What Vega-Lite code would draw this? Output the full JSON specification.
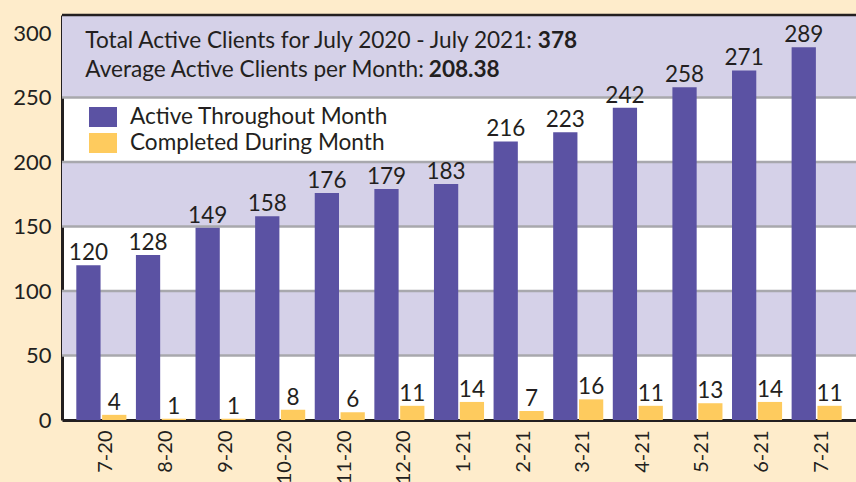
{
  "$schema": "https://vega.github.io/schema/vega-lite/v6.json",
  "width": 794,
  "height": 405,
  "autosize": {"type": "none"},
  "padding": {"left": 62, "top": 15, "right": 0, "bottom": 62},
  "background": "#FEECCB",
  "view": {"fill": "#FFFFFF", "stroke": null},
  "config": {
    "font": "Lato",
    "text": {"font": "Lato", "color": "#231F20"}
  },
  "datasets": {
    "clients": [
      {"month": "7-20", "series": "Active Throughout Month", "value": 120},
      {"month": "7-20", "series": "Completed During Month", "value": 4},
      {"month": "8-20", "series": "Active Throughout Month", "value": 128},
      {"month": "8-20", "series": "Completed During Month", "value": 1},
      {"month": "9-20", "series": "Active Throughout Month", "value": 149},
      {"month": "9-20", "series": "Completed During Month", "value": 1},
      {"month": "10-20", "series": "Active Throughout Month", "value": 158},
      {"month": "10-20", "series": "Completed During Month", "value": 8},
      {"month": "11-20", "series": "Active Throughout Month", "value": 176},
      {"month": "11-20", "series": "Completed During Month", "value": 6},
      {"month": "12-20", "series": "Active Throughout Month", "value": 179},
      {"month": "12-20", "series": "Completed During Month", "value": 11},
      {"month": "1-21", "series": "Active Throughout Month", "value": 183},
      {"month": "1-21", "series": "Completed During Month", "value": 14},
      {"month": "2-21", "series": "Active Throughout Month", "value": 216},
      {"month": "2-21", "series": "Completed During Month", "value": 7},
      {"month": "3-21", "series": "Active Throughout Month", "value": 223},
      {"month": "3-21", "series": "Completed During Month", "value": 16},
      {"month": "4-21", "series": "Active Throughout Month", "value": 242},
      {"month": "4-21", "series": "Completed During Month", "value": 11},
      {"month": "5-21", "series": "Active Throughout Month", "value": 258},
      {"month": "5-21", "series": "Completed During Month", "value": 13},
      {"month": "6-21", "series": "Active Throughout Month", "value": 271},
      {"month": "6-21", "series": "Completed During Month", "value": 14},
      {"month": "7-21", "series": "Active Throughout Month", "value": 289},
      {"month": "7-21", "series": "Completed During Month", "value": 11}
    ],
    "bands": [
      {"lo": 50, "hi": 100},
      {"lo": 150, "hi": 200},
      {"lo": 250, "hi": 314}
    ],
    "grid": [
      {"v": 50}, {"v": 100}, {"v": 150}, {"v": 200}, {"v": 250}
    ],
    "notes": [
      {"label": "Total Active Clients for July 2020 - July 2021:", "bold": "378", "yv": 288.5, "boldDx": 461.5},
      {"label": "Average Active Clients per Month:", "bold": "208.38", "yv": 266, "boldDx": 352.5}
    ]
  },
  "layer": [
    {
      "data": {"name": "bands"},
      "mark": {"type": "rect", "color": "#D5D1E8"},
      "encoding": {
        "y": {"field": "lo", "type": "quantitative", "scale": {"domain": [0, 314]}},
        "y2": {"field": "hi"}
      }
    },
    {
      "data": {"name": "grid"},
      "mark": {"type": "rule", "color": "#A8A8AD", "strokeWidth": 2.5},
      "encoding": {
        "y": {"field": "v", "type": "quantitative"}
      }
    },
    {
      "data": {"name": "clients"},
      "mark": {"type": "bar"},
      "encoding": {
        "x": {
          "field": "month", "type": "nominal", "sort": null,
          "scale": {"paddingInner": 0.16, "paddingOuter": 0.24},
          "axis": {
            "title": null, "labelAngle": 270, "labelFontSize": 20, "labelFont": "Lato",
            "labelColor": "#231F20", "ticks": false, "domainColor": "#231F20",
            "domainWidth": 3, "labelPadding": 10, "labelOffset": 5, "labelBaseline": "middle"
          }
        },
        "xOffset": {"field": "series", "type": "nominal", "scale": {"paddingInner": 0.06}},
        "y": {
          "field": "value", "type": "quantitative",
          "scale": {"domain": [0, 314], "nice": false},
          "axis": {
            "title": null, "values": [0, 50, 100, 150, 200, 250, 300], "grid": false,
            "ticks": false, "labelFontSize": 22, "labelFont": "Lato", "labelColor": "#231F20",
            "domainColor": "#231F20", "domainWidth": 3, "labelPadding": 11
          }
        },
        "color": {
          "field": "series", "type": "nominal",
          "scale": {"domain": ["Active Throughout Month", "Completed During Month"], "range": ["#5B52A3", "#FECB5E"]},
          "legend": {
            "title": null, "orient": "none", "legendX": 27, "legendY": 89, "padding": 0,
            "labelFontSize": 22.6, "labelFont": "Lato", "labelColor": "#231F20", "labelLimit": 400,
            "symbolType": "M-1,-0.714L1,-0.714L1,0.714L-1,0.714Z", "symbolSize": 784,
            "symbolStrokeWidth": 0, "symbolOpacity": 1, "labelOffset": 13,
            "clipHeight": 26, "rowPadding": 0
          }
        }
      }
    },
    {
      "data": {"name": "clients"},
      "mark": {"type": "text", "baseline": "alphabetic", "dy": -5, "fontSize": 22.5},
      "encoding": {
        "x": {"field": "month", "type": "nominal", "sort": null},
        "xOffset": {"field": "series", "type": "nominal"},
        "y": {"field": "value", "type": "quantitative"},
        "text": {"field": "value", "type": "quantitative"}
      }
    },
    {
      "data": {"name": "notes"},
      "mark": {"type": "text", "align": "left", "baseline": "alphabetic", "fontSize": 22.6, "dx": -16},
      "encoding": {
        "x": {"datum": "7-20", "type": "nominal"},
        "y": {"field": "yv", "type": "quantitative"},
        "text": {"field": "label"}
      }
    },
    {
      "data": {"name": "notes"},
      "mark": {"type": "text", "align": "left", "baseline": "alphabetic", "fontSize": 22.6, "fontWeight": "bold"},
      "encoding": {
        "x": {"datum": "7-20", "type": "nominal"},
        "y": {"field": "yv", "type": "quantitative"},
        "xOffset": {"field": "boldDx", "type": "quantitative", "scale": null},
        "text": {"field": "bold"}
      }
    },
    {
      "data": {"values": [{"top": 314}]},
      "mark": {"type": "rule", "color": "#231F20", "strokeWidth": 2.5},
      "encoding": {
        "y": {"field": "top", "type": "quantitative"}
      }
    }
  ]
}
